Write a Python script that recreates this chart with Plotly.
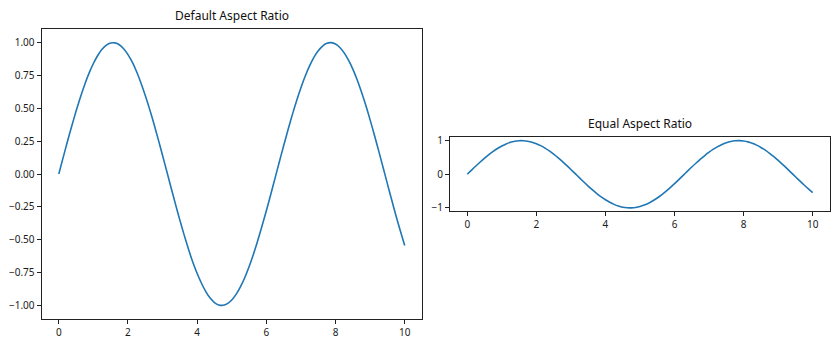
import plotly.graph_objects as go

x_vals = [i * 0.125 for i in range(81)]
y_vals = [0.000, 0.125, 0.247, 0.366, 0.479, 0.585, 0.682, 0.768, 0.841, 0.902,
          0.949, 0.981, 0.997, 0.998, 0.984, 0.954, 0.909, 0.851, 0.778, 0.693,
          0.598, 0.494, 0.382, 0.264, 0.141, 0.017, -0.108, -0.231, -0.351, -0.465,
          -0.572, -0.672, -0.757, -0.831, -0.895, -0.944, -0.978, -0.996, -0.999, -0.986,
          -0.959, -0.916, -0.859, -0.789, -0.706, -0.612, -0.508, -0.396, -0.279, -0.158,
          -0.033, 0.092, 0.215, 0.335, 0.450, 0.558, 0.657, 0.746, 0.823, 0.888,
          0.938, 0.974, 0.995, 1.000, 0.989, 0.963, 0.922, 0.866, 0.798, 0.717,
          0.624, 0.523, 0.412, 0.295, 0.174, 0.050, -0.075, -0.198, -0.319, -0.434,
          -0.544]

titles = ["Default Aspect Ratio", "Equal Aspect Ratio"]
x_ticks = [0, 2, 4, 6, 8, 10]
left_y_ticks = [-1.00, -0.75, -0.50, -0.25, 0.00, 0.25, 0.50, 0.75, 1.00]
right_y_ticks = [-1, 0, 1]

W, H = 840, 350
FONT = "Noto Sans"
LINE = "#1f77b4"

fig = go.Figure()
for i in (1, 2):
    fig.add_trace(go.Scatter(
        x=x_vals, y=y_vals, mode="lines",
        line=dict(color=LINE, width=1.6, shape="spline", smoothing=0.8),
        xaxis="x" if i == 1 else "x2", yaxis="y" if i == 1 else "y2", showlegend=False,
        hoverinfo="skip"))

# Pixel boxes of the two axes
L = dict(x0=41.5, x1=422, y0=26, y1=321)
R = dict(x0=450, x1=830, y0=136, y1=211.5)

def dom(b):
    return [b["x0"] / W, b["x1"] / W], [1 - b["y1"] / H, 1 - b["y0"] / H]

lx, ly = dom(L)
rx, ry = dom(R)

axis_common = dict(showline=True, linecolor="#222222", linewidth=1, mirror=True,
                   showgrid=False, zeroline=False, ticks="outside", ticklen=4,
                   tickwidth=1, tickcolor="#222222",
                   tickfont=dict(family=FONT, size=10, color="#1a1a1a"))

fig.update_layout(
    width=W, height=H, margin=dict(l=0, r=0, t=0, b=0),
    paper_bgcolor="white", plot_bgcolor="white",
    xaxis=dict(domain=lx, range=[-0.5, 10.5], tickvals=x_ticks, anchor="y", **axis_common),
    yaxis=dict(domain=ly, range=[-1.1, 1.1], tickvals=left_y_ticks, tickformat=".2f",
               anchor="x", **axis_common),
    xaxis2=dict(domain=rx, range=[-0.5, 10.5], tickvals=x_ticks, anchor="y2", **axis_common),
    yaxis2=dict(domain=ry, range=[-1.1, 1.1], tickvals=right_y_ticks, anchor="x2",
                **axis_common),
    annotations=[
        dict(text=titles[0], x=(lx[0] + lx[1]) / 2, y=ly[1], xref="paper", yref="paper",
             xanchor="center", yanchor="bottom", yshift=3, showarrow=False,
             font=dict(family=FONT, size=12, color="#111111")),
        dict(text=titles[1], x=(rx[0] + rx[1]) / 2, y=ry[1], xref="paper", yref="paper",
             xanchor="center", yanchor="bottom", yshift=3, showarrow=False,
             font=dict(family=FONT, size=12, color="#111111")),
    ],
)

fig.write_html("out.html")
